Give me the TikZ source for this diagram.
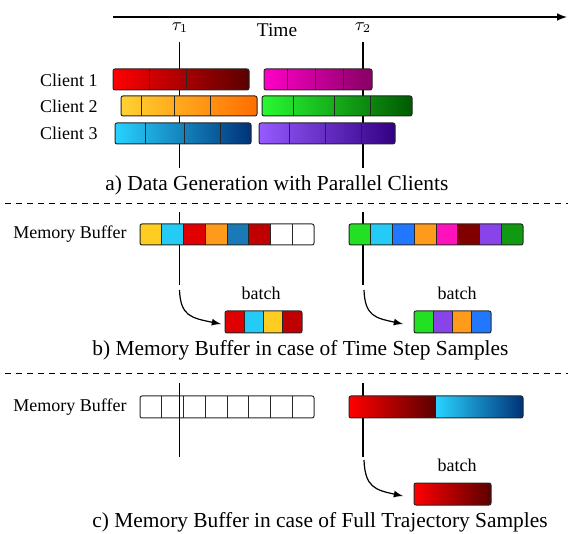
\documentclass[tikz,border=0pt]{standalone}
\usepackage{fontspec}
\setmainfont{Liberation Serif}
\usetikzlibrary{arrows}

\definecolor{redA}{RGB}{255,0,0}     \definecolor{redB}{RGB}{90,0,0}
\definecolor{magA}{RGB}{255,0,200}   \definecolor{magB}{RGB}{135,0,100}
\definecolor{yelA}{RGB}{255,210,50}  \definecolor{yelB}{RGB}{255,110,0}
\definecolor{grnA}{RGB}{40,250,50}   \definecolor{grnB}{RGB}{0,90,0}
\definecolor{cyaA}{RGB}{40,210,255}  \definecolor{cyaB}{RGB}{0,50,120}
\definecolor{purA}{RGB}{150,90,255}  \definecolor{purB}{RGB}{50,0,130}

\definecolor{cYel}{RGB}{255,204,34}  \definecolor{cCya}{RGB}{36,204,245}
\definecolor{cRed}{RGB}{224,0,0}     \definecolor{cOra}{RGB}{255,154,26}
\definecolor{cTea}{RGB}{26,122,184}  \definecolor{cDrd}{RGB}{192,0,0}
\definecolor{cGrn}{RGB}{34,224,34}   \definecolor{cBlu}{RGB}{34,119,255}
\definecolor{cMag}{RGB}{255,17,187}  \definecolor{cMar}{RGB}{128,0,0}
\definecolor{cPur}{RGB}{136,68,232}  \definecolor{cDgr}{RGB}{17,153,17}

\begin{document}
\begin{tikzpicture}[x=0.5pt,y=-0.5pt,
  lbl/.style={font=\fontsize{9}{11}\selectfont, inner sep=0pt},
  capt/.style={font=\fontsize{10.7}{13}\selectfont, inner sep=0pt},
  tline/.style={line width=0.65pt},
  frame/.style={draw=black!85, line width=0.5pt},
  sep/.style={dashed, dash pattern=on 3pt off 2.5pt, line width=0.5pt}]

  \useasboundingbox (0,0) rectangle (568,534);

  % time axis
  \coordinate (T0) at (113,17);
  \coordinate (T1) at (567,17);
  \draw[line width=0.7pt, -latex] (T0) -- (T1);
  \node[lbl, font=\fontsize{9.7}{11}\selectfont] (time) at (277,30) {Time};
  \node[lbl] (tau1) at (180,28) {$\tau_1$};
  \node[lbl] (tau2) at (363,28) {$\tau_2$};

  % vertical time marks
  \coordinate (A1) at (179.5,42); \coordinate (A1e) at (179.5,168);
  \coordinate (A2) at (363,42);   \coordinate (A2e) at (363,168);
  \coordinate (B1) at (179.5,212); \coordinate (B1e) at (179.5,285);
  \coordinate (B2) at (363,212);   \coordinate (B2e) at (363,285);
  \coordinate (C1) at (179.5,383); \coordinate (C1e) at (179.5,457);
  \coordinate (C2) at (363,383);   \coordinate (C2e) at (363,457);
  \draw[tline] (A1) -- (A1e);
  \draw[tline] (A2) -- (A2e);
  \draw[tline] (B1) -- (B1e);
  \draw[tline] (B2) -- (B2e);
  \draw[tline] (C1) -- (C1e);
  \draw[tline] (C2) -- (C2e);

  %% a) parallel clients
  \node[lbl, anchor=east] (client1) at (98,80) {Client 1};
  \node[lbl, anchor=east] (client2) at (98,106) {Client 2};
  \node[lbl, anchor=east] (client3) at (98,133) {Client 3};

  \foreach \xa/\xb/\ya/\yb/\ca/\cb/\da/\db/\dc in {
      113/249/69/90/redA/redB/149/186/221,
      264/372/69/90/magA/magB/287/315/343,
      121/257/96/116/yelA/yelB/141/174/210,
      262/412/96/116/grnA/grnB/293/334/370,
      115/251/123/144/cyaA/cyaB/145/184/220,
      259/395/123/144/purA/purB/289/325/361}
  {
    \shadedraw[frame, rounded corners=1pt, left color=\ca, right color=\cb]
      (\xa,\ya) rectangle (\xb,\yb);
    \foreach \d in {\da,\db,\dc}
      \draw[frame] (\d,\ya) -- (\d,\yb);
  }

  \node[capt, anchor=west] (capa) at (105,185) {a) Data Generation with Parallel Clients};

  \coordinate (S1a) at (5,204);  \coordinate (S1b) at (568,204);
  \draw[sep] (S1a) -- (S1b);

  %% b) time step samples
  \node[lbl, anchor=east] (membufb) at (127,234) {Memory Buffer};

  \begin{scope}
    \clip[rounded corners=1pt] (140,224) rectangle (314,245);
    \foreach \c [count=\i from 0] in {cYel,cCya,cRed,cOra,cTea,cDrd,white,white}
      \fill[\c] ({140+\i*21.75},224) rectangle ++(21.75,21);
  \end{scope}
  \begin{scope}
    \clip[rounded corners=1pt] (349,224) rectangle (523,245);
    \foreach \c [count=\i from 0] in {cGrn,cCya,cBlu,cOra,cMag,cMar,cPur,cDgr}
      \fill[\c] ({349+\i*21.75},224) rectangle ++(21.75,21);
  \end{scope}
  \draw[frame, rounded corners=1pt] (140,224) rectangle (314,245);
  \draw[frame, rounded corners=1pt] (349,224) rectangle (523,245);
  \foreach \i in {1,...,7} {
    \draw[frame] ({140+\i*21.75},224) -- ({140+\i*21.75},245);
    \draw[frame] ({349+\i*21.75},224) -- ({349+\i*21.75},245);
  }

  \node[lbl] (batchb1) at (261,293) {batch};
  \node[lbl] (batchb2) at (457,293) {batch};

  \begin{scope}
    \clip[rounded corners=1pt] (225,311) rectangle (302,333);
    \foreach \c [count=\i from 0] in {cRed,cCya,cYel,cDrd}
      \fill[\c] ({225+\i*19.25},311) rectangle ++(19.25,22);
  \end{scope}
  \begin{scope}
    \clip[rounded corners=1pt] (414,311) rectangle (491,333);
    \foreach \c [count=\i from 0] in {cGrn,cPur,cOra,cBlu}
      \fill[\c] ({414+\i*19.25},311) rectangle ++(19.25,22);
  \end{scope}
  \draw[frame, rounded corners=1pt] (225,311) rectangle (302,333);
  \draw[frame, rounded corners=1pt] (414,311) rectangle (491,333);
  \foreach \i in {1,2,3} {
    \draw[frame] ({225+\i*19.25},311) -- ({225+\i*19.25},333);
    \draw[frame] ({414+\i*19.25},311) -- ({414+\i*19.25},333);
  }

  \coordinate (pb1) at (179.5,290); \coordinate (qb1) at (221,324);
  \coordinate (pb2) at (364,290);   \coordinate (qb2) at (403,324);
  \draw[line width=0.6pt, -latex] (pb1) .. controls (180.5,316) and (191,318) .. (qb1);
  \draw[line width=0.6pt, -latex] (pb2) .. controls (365,316) and (375,318) .. (qb2);

  \node[capt, anchor=west] (capb) at (92,350) {b) Memory Buffer in case of Time Step Samples};

  \coordinate (S2a) at (5,374);  \coordinate (S2b) at (568,374);
  \draw[sep] (S2a) -- (S2b);

  %% c) full trajectory samples
  \node[lbl, anchor=east] (membufc) at (127,407) {Memory Buffer};

  \draw[frame, rounded corners=1pt] (140,396) rectangle (314,418);
  \foreach \i in {1,...,7}
    \draw[frame] ({140+\i*21.75},396) -- ({140+\i*21.75},418);

  \begin{scope}
    \clip[rounded corners=1pt] (349,396) rectangle (523,418);
    \shade[left color=redA, right color=redB] (349,396) rectangle (436,418);
    \shade[left color=cyaA, right color=cyaB] (436,396) rectangle (523,418);
  \end{scope}
  \draw[frame, rounded corners=1pt] (349,396) rectangle (523,418);

  \node[lbl] (batchc) at (457,465) {batch};
  \shadedraw[frame, rounded corners=1pt, left color=redA, right color=redB]
    (414,483) rectangle (491,505);

  \coordinate (pc) at (364,460); \coordinate (qc) at (403,496);
  \draw[line width=0.6pt, -latex] (pc) .. controls (365,487) and (375,490) .. (qc);

  \node[capt, anchor=west] (capc) at (92,522) {c) Memory Buffer in case of Full Trajectory Samples};

\end{tikzpicture}
\end{document}
